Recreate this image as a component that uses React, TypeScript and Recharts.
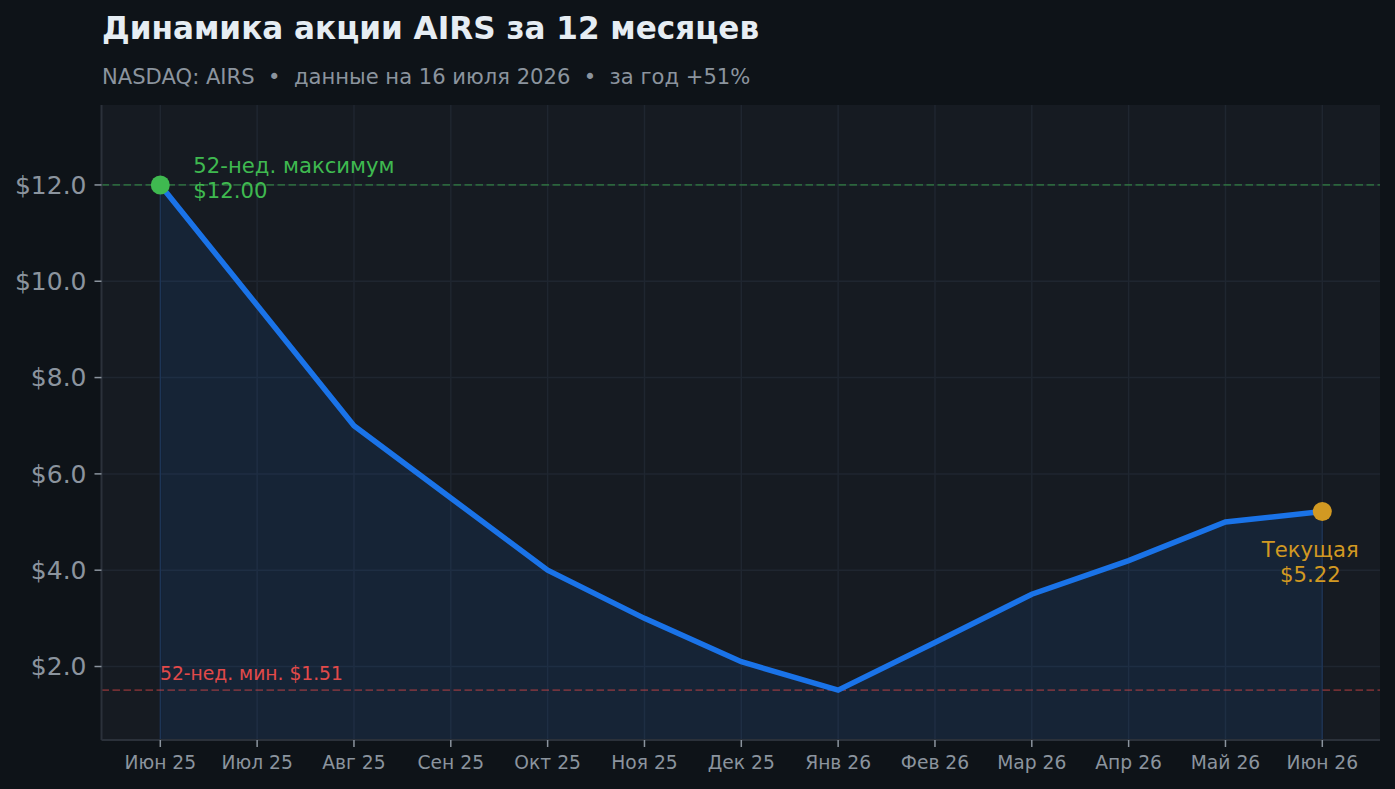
import { ComposedChart, Area, Line, XAxis, YAxis, CartesianGrid, ReferenceLine, ReferenceDot } from 'recharts';

const months = ['Июн 25', 'Июл 25', 'Авг 25', 'Сен 25', 'Окт 25', 'Ноя 25', 'Дек 25', 'Янв 26', 'Фев 26', 'Мар 26', 'Апр 26', 'Май 26', 'Июн 26'];
const prices = [12, 9.5, 7, 5.5, 4, 3, 2.1, 1.51, 2.5, 3.5, 4.2, 5, 5.22];
const yTicks = [2, 4, 6, 8, 10, 12];
const high52 = 12;
const low52 = 1.51;
const current = 5.22;
const yMin = 0.474;

const data = months.map((month, i) => ({ month, price: prices[i] }));

const FONT = '"DejaVu Sans", sans-serif';
const GRID = '#1f2630';
const AXIS = '#2b313a';
const MUTED = '#8b949e';
const GREEN = '#3fb950';
const RED = '#e24a4a';
const AMBER = '#d29922';
const BLUE = '#1a73e8';

function HighLabel({ viewBox }: any) {
  const x = viewBox.x + viewBox.width / 2 + 33;
  const y = viewBox.y + viewBox.height / 2;
  return (
    <text fill={GREEN} fontSize={21.2} fontFamily={FONT}>
      <tspan x={x} y={y - 12}>52-нед. максимум</tspan>
      <tspan x={x} y={y + 13}>$12.00</tspan>
    </text>
  );
}

function CurrentLabel({ viewBox }: any) {
  const x = viewBox.x + viewBox.width / 2 - 12;
  const y = viewBox.y + viewBox.height / 2;
  return (
    <text fill={AMBER} fontSize={21.2} fontFamily={FONT} textAnchor="middle">
      <tspan x={x} y={y + 46}>Текущая</tspan>
      <tspan x={x} y={y + 71}>$5.22</tspan>
    </text>
  );
}

function LowLabel({ viewBox }: any) {
  return (
    <text x={viewBox.x + 58.5} y={viewBox.y - 10} fill={RED} fontSize={18.7} fontFamily={FONT}>
      52-нед. мин. $1.51
    </text>
  );
}

export default function App() {
  return (
    <div style={{ position: 'fixed', inset: 0, width: 1395, height: 789, background: '#0e1318', overflow: 'hidden' }}>
      <div style={{ position: 'absolute', left: 102, top: 9, fontFamily: FONT, fontSize: 31.1, fontWeight: 700, color: '#e6edf3', lineHeight: '38px', whiteSpace: 'nowrap' }}>
        Динамика акции AIRS за 12 месяцев
      </div>
      <div style={{ position: 'absolute', left: 102, top: 64, fontFamily: FONT, fontSize: 21.1, color: MUTED, lineHeight: '26px', whiteSpace: 'pre' }}>
        NASDAQ: AIRS  •  данные на 16 июля 2026  •  за год +51%
      </div>
      <ComposedChart
        width={1395}
        height={789}
        data={data}
        margin={{ top: 105, right: 15, bottom: 0, left: 0 }}
        style={{ position: 'absolute', left: 0, top: 0 }}
      >
        <CartesianGrid stroke={GRID} strokeWidth={1.5} fill="#161b22" syncWithTicks />
        <XAxis
          dataKey="month"
          scale="point"
          height={49}
          padding={{ left: 58.8, right: 57.7 }}
          interval={0}
          tick={{ fontSize: 18.7, fill: MUTED, fontFamily: FONT }}
          tickMargin={9}
          tickSize={7}
          axisLine={{ stroke: AXIS, strokeWidth: 2 }}
          tickLine={{ stroke: MUTED, strokeWidth: 1.5 }}
        />
        <YAxis
          type="number"
          width={101.5}
          domain={[yMin, 13.66]}
          allowDataOverflow
          ticks={yTicks}
          tickFormatter={(v: number) => `$${v.toFixed(1)}`}
          tick={{ fontSize: 25, fill: MUTED, fontFamily: FONT }}
          tickMargin={8}
          tickSize={7}
          axisLine={{ stroke: AXIS, strokeWidth: 2 }}
          tickLine={{ stroke: MUTED, strokeWidth: 1.5 }}
        />
        <Area dataKey="price" type="linear" stroke="none" fill={BLUE} fillOpacity={0.1} isAnimationActive={false} />
        <ReferenceLine segment={[{ x: months[0], y: yMin }, { x: months[0], y: high52 }]} stroke={BLUE} strokeOpacity={0.15} strokeWidth={1.5} />
        <ReferenceLine segment={[{ x: months[12], y: yMin }, { x: months[12], y: current }]} stroke={BLUE} strokeOpacity={0.15} strokeWidth={1.5} />
        <ReferenceLine y={high52} stroke={GREEN} strokeOpacity={0.45} strokeWidth={1.8} strokeDasharray="7.5 3.5" />
        <ReferenceLine y={low52} stroke={RED} strokeOpacity={0.45} strokeWidth={1.8} strokeDasharray="7.5 3.5" label={<LowLabel />} />
        <Line dataKey="price" type="linear" stroke={BLUE} strokeWidth={5.5} dot={false} isAnimationActive={false} />
        <ReferenceDot x={months[0]} y={high52} r={9.5} fill={GREEN} stroke="none" label={<HighLabel />} />
        <ReferenceDot x={months[12]} y={current} r={9.5} fill={AMBER} stroke="none" label={<CurrentLabel />} />
      </ComposedChart>
    </div>
  );
}
